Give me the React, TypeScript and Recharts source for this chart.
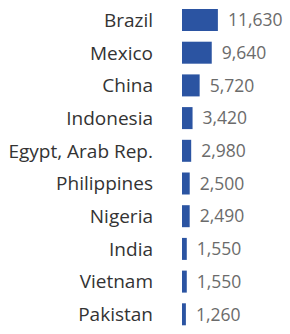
import React from "react";
import { BarChart, Bar, XAxis, YAxis, LabelList } from "recharts";

const countries = ["Brazil", "Mexico", "China", "Indonesia", "Egypt, Arab Rep.", "Philippines", "Nigeria", "India", "Vietnam", "Pakistan"];
const values = [11630, 9640, 5720, 3420, 2980, 2500, 2490, 1550, 1550, 1260];

const data = countries.map((name, i) => ({ name, value: values[i] }));

const fmt = (v: number) => v.toLocaleString("en-US");

const CountryTick = (props: any) => {
  const { x, y, payload } = props;
  return (
    <text x={x} y={y} dy={6.5} textAnchor="end" fill="#333333" fontSize={19} fontFamily="'Open Sans', sans-serif">
      {payload.value}
    </text>
  );
};

export default function App() {
  return (
    <div style={{ position: "absolute", left: 0, top: 0, background: "#fff" }}>
      <BarChart
        width={290}
        height={334}
        data={data}
        layout="vertical"
        margin={{ top: 4, right: 0, bottom: 3, left: 0 }}
      >
        <XAxis type="number" hide domain={[0, 35000]} allowDataOverflow />
        <YAxis
          type="category"
          dataKey="name"
          width={182}
          axisLine={false}
          tickLine={false}
          tickSize={0}
          tickMargin={29}
          interval={0}
          tick={<CountryTick />}
        />
        <Bar dataKey="value" fill="#2b54a2" barSize={22} isAnimationActive={false}>
          <LabelList
            dataKey="value"
            position="right"
            offset={10}
            formatter={(v: any) => fmt(Number(v))}
            fill="#6b6b6b"
            fontSize={17.5}
            fontFamily="'Open Sans', sans-serif"
          />
        </Bar>
      </BarChart>
    </div>
  );
}
